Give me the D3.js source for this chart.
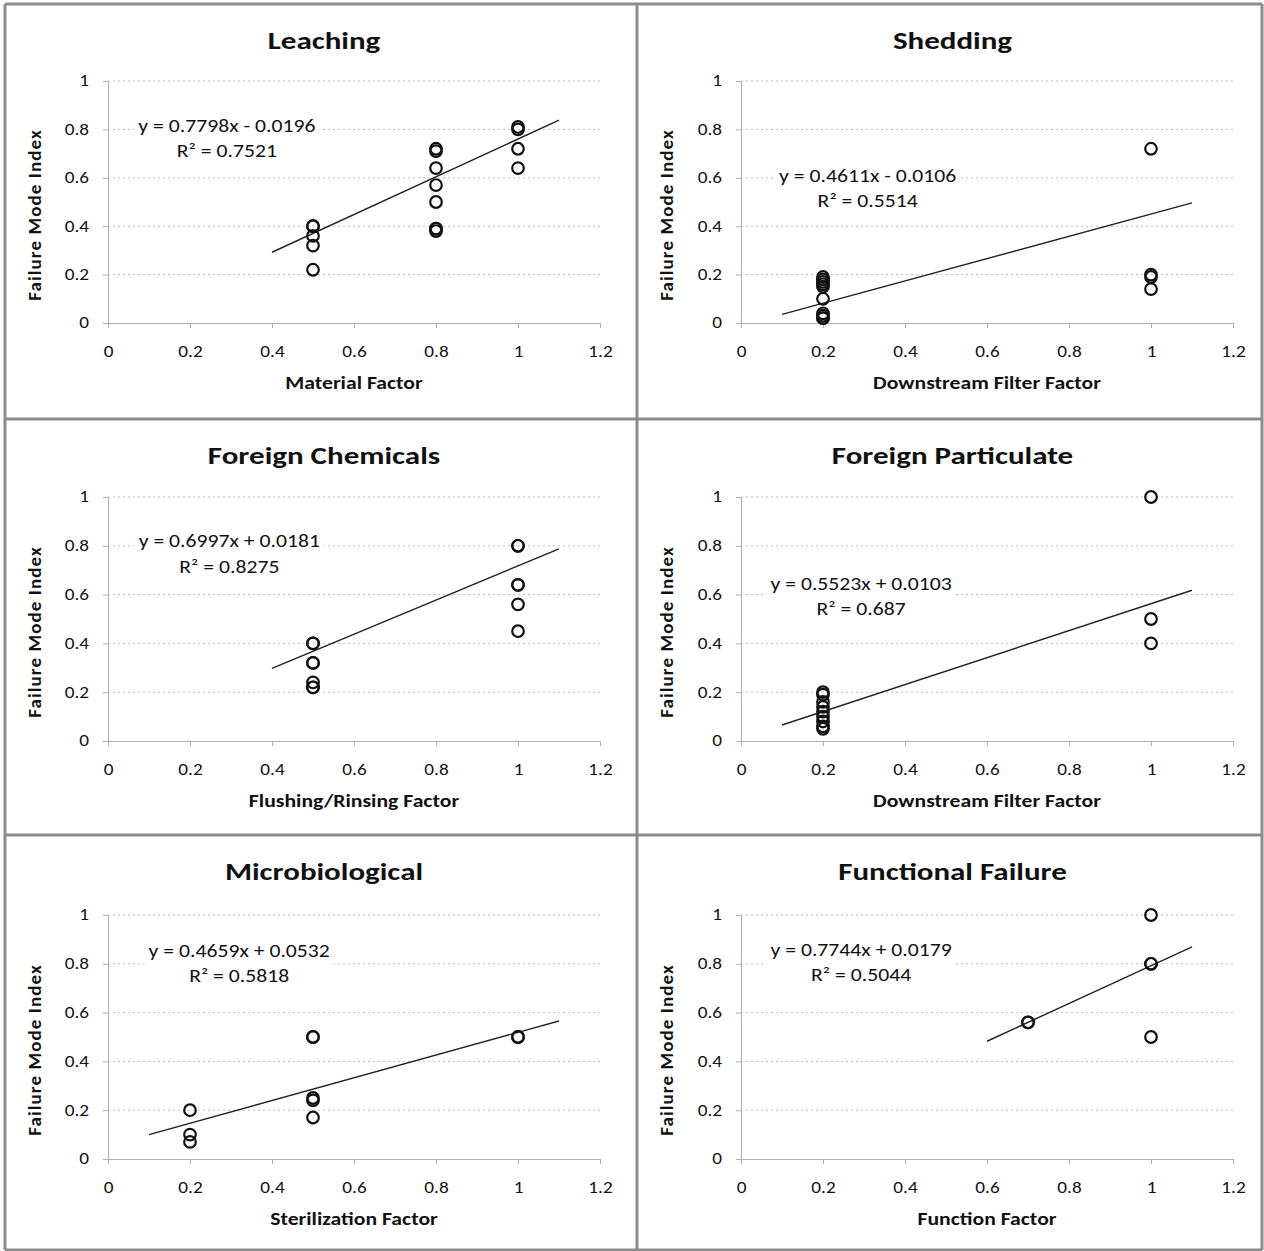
<!DOCTYPE html>
<html>
<head>
<meta charset="utf-8">
<script src="https://cdn.jsdelivr.net/npm/d3@7/dist/d3.min.js"></script>
<style>
  html, body { margin: 0; padding: 0; background: #fff; }
  svg { display: block; }
  text { font-family: Carlito, Lato, "Open Sans", sans-serif; fill: #111; }
</style>
</head>
<body>
<svg id="chart" width="1264" height="1251"></svg>
<script>
// ---- chart data ----
const titles = ["Leaching", "Shedding", "Foreign Chemicals", "Foreign Particulate", "Microbiological", "Functional Failure"];
const xTitles = ["Material Factor", "Downstream Filter Factor", "Flushing/Rinsing Factor", "Downstream Filter Factor", "Sterilization Factor", "Function Factor"];
const yTitle = "Failure Mode Index";
const xTicks = [0, 0.2, 0.4, 0.6, 0.8, 1, 1.2];
const yTicks = [0, 0.2, 0.4, 0.6, 0.8, 1];

const leachingX = [0.5, 0.5, 0.5, 0.5, 0.5, 0.8, 0.8, 0.8, 0.8, 0.8, 0.8, 0.8, 0.8, 1, 1, 1, 1];
const leachingY = [0.40, 0.40, 0.36, 0.32, 0.22, 0.72, 0.71, 0.64, 0.57, 0.50, 0.39, 0.39, 0.38, 0.80, 0.81, 0.72, 0.64];

const sheddingX = [0.2, 0.2, 0.2, 0.2, 0.2, 0.2, 0.2, 0.2, 0.2, 0.2, 1, 1, 1, 1];
const sheddingY = [0.19, 0.18, 0.17, 0.16, 0.15, 0.10, 0.04, 0.03, 0.02, 0.02, 0.72, 0.20, 0.19, 0.14];

const chemicalsX = [0.5, 0.5, 0.5, 0.5, 0.5, 0.5, 0.5, 1, 1, 1, 1, 1, 1];
const chemicalsY = [0.40, 0.40, 0.32, 0.32, 0.24, 0.22, 0.22, 0.80, 0.80, 0.64, 0.64, 0.56, 0.45];

const particulateX = [0.2, 0.2, 0.2, 0.2, 0.2, 0.2, 0.2, 0.2, 0.2, 1, 1, 1];
const particulateY = [0.20, 0.19, 0.16, 0.14, 0.12, 0.10, 0.08, 0.06, 0.05, 1.0, 0.50, 0.40];

const microX = [0.2, 0.2, 0.2, 0.5, 0.5, 0.5, 0.5, 0.5, 1, 1];
const microY = [0.20, 0.10, 0.07, 0.50, 0.50, 0.25, 0.24, 0.17, 0.50, 0.50];

const functionX = [0.7, 0.7, 1, 1, 1, 1];
const functionY = [0.56, 0.56, 1.0, 0.80, 0.80, 0.50];

// linear trend fits as printed on each panel
const slopes = [0.7798, 0.4611, 0.6997, 0.5523, 0.4659, 0.7744];
const intercepts = [-0.0196, -0.0106, 0.0181, 0.0103, 0.0532, 0.0179];
const rSquared = ["0.7521", "0.5514", "0.8275", "0.687", "0.5818", "0.5044"];

// where each fit label sits, in data units (x centre, y of first baseline)
const labelAnchors = [[0.29, 0.79], [0.309, 0.583], [0.296, 0.793], [0.293, 0.617], [0.32, 0.826], [0.293, 0.832]];

const seriesX = [leachingX, sheddingX, chemicalsX, particulateX, microX, functionX];
const seriesY = [leachingY, sheddingY, chemicalsY, particulateY, microY, functionY];

// ---- layout ----
const colPlotX = [[108, 600], [741, 1233]];
const rowPlotY = [[323, 81], [741, 497], [1159, 915]];
const colFrame = [[5, 637], [637, 1262]];
const rowFrame = [[4, 419], [419, 835], [835, 1250]];
const textStretch = 1.24;   // horizontal widening applied to the lettering

const svg = d3.select("#chart");
const fmt = v => (v === 0 ? "0" : d3.format("~g")(v));

function fitText(m, b) {
  const sign = b < 0 ? "- " : "+ ";
  return "y = " + m.toFixed(4) + "x " + sign + Math.abs(b).toFixed(4);
}

titles.forEach((title, i) => {
  const c = i % 2, r = Math.floor(i / 2);
  const x = d3.scaleLinear().domain([0, 1.2]).range(colPlotX[c]);
  const y = d3.scaleLinear().domain([0, 1]).range(rowPlotY[r]);
  const g = svg.append("g");
  const frameCx = (colFrame[c][0] + colFrame[c][1]) / 2;
  const plotCx = (colPlotX[c][0] + colPlotX[c][1]) / 2;
  const plotCy = (rowPlotY[r][0] + rowPlotY[r][1]) / 2;

  // dotted horizontal gridlines
  g.append("g").selectAll("line").data(yTicks.filter(v => v > 0)).join("line")
    .attr("x1", x(0)).attr("x2", x(1.2))
    .attr("y1", d => y(d)).attr("y2", d => y(d))
    .attr("stroke", "#bdbdbd").attr("stroke-width", 1)
    .attr("stroke-dasharray", "2,3");

  // axes
  const xAxis = d3.axisBottom(x).tickValues(xTicks).tickFormat(fmt).tickSize(5).tickPadding(18);
  const yAxis = d3.axisLeft(y).tickValues(yTicks).tickFormat(fmt).tickSize(5).tickPadding(14);

  const gx = g.append("g").attr("transform", `translate(0,${y(0)})`).call(xAxis);
  const gy = g.append("g").attr("transform", `translate(${x(0)},0)`).call(yAxis);
  [gx, gy].forEach(a => {
    a.select(".domain").attr("stroke", "#b0b0b0").attr("stroke-width", 1);
    a.selectAll(".tick line").attr("stroke", "#b0b0b0");
    a.selectAll(".tick text").attr("font-size", 15.5).attr("fill", "#111")
      .style("font-family", "Carlito, Lato, sans-serif");
  });

  // chart title
  g.append("text")
    .attr("x", frameCx + 3).attr("y", rowFrame[r][0] + 45)
    .attr("text-anchor", "middle")
    .attr("font-size", 25).attr("font-weight", "bold")
    .text(title);

  // axis titles
  g.append("text")
    .attr("x", plotCx).attr("y", y(0) + 66)
    .attr("text-anchor", "middle")
    .attr("font-size", 17.5).attr("font-weight", "bold")
    .text(xTitles[i]);

  g.append("text")
    .attr("class", "ytitle")
    .attr("transform", `translate(${colFrame[c][0] + 36},${plotCy + 13}) rotate(-90)`)
    .attr("text-anchor", "middle")
    .attr("font-size", 19).attr("font-weight", "bold")
    .attr("letter-spacing", 1.1)
    .text(yTitle);

  // trend line, spanning the data range extended by 0.1 on each side
  const xs = seriesX[i], ys = seriesY[i];
  const x0 = d3.min(xs) - 0.1, x1 = d3.max(xs) + 0.1;
  const m = slopes[i], b = intercepts[i];
  g.append("line")
    .attr("x1", x(x0)).attr("y1", y(m * x0 + b))
    .attr("x2", x(x1)).attr("y2", y(m * x1 + b))
    .attr("stroke", "#222").attr("stroke-width", 1.4);

  // fit label with white backing
  const [ax, ay] = labelAnchors[i];
  const lg = g.append("g");
  const bg = lg.append("rect").attr("fill", "#fff");
  lg.append("text")
    .attr("x", x(ax)).attr("y", y(ay))
    .attr("text-anchor", "middle").attr("font-size", 17.5)
    .text(fitText(m, b));
  lg.append("text")
    .attr("x", x(ax)).attr("y", y(ay) + 25)
    .attr("text-anchor", "middle").attr("font-size", 17.5)
    .text("R\u00B2 = " + rSquared[i]);
  const bb = lg.node().getBBox();
  const w = bb.width * textStretch;
  bg.attr("x", x(ax) - w / 2 - 4).attr("y", bb.y - 2).attr("width", w + 8).attr("height", bb.height + 4);

  // markers
  g.append("g").selectAll("circle").data(xs.map((v, k) => [v, ys[k]])).join("circle")
    .attr("cx", d => x(d[0])).attr("cy", d => y(d[1]))
    .attr("r", 5.8)
    .attr("fill", "none").attr("stroke", "#111").attr("stroke-width", 2.2);
});

// widen lettering horizontally about each text's anchor point
svg.selectAll("text").filter(function () { return !this.classList.contains("ytitle"); })
  .each(function () {
    const ax = +this.getAttribute("x") || 0;
    d3.select(this).attr("transform", `translate(${ax * (1 - textStretch)},0) scale(${textStretch},1)`);
  });

// panel frames
const vLines = [5, 637, 1262];
const hLines = [4, 419, 835, 1250];
svg.append("g").selectAll("line").data(vLines).join("line")
  .attr("x1", d => d).attr("x2", d => d).attr("y1", 4).attr("y2", 1250)
  .attr("stroke", "#8c8c8c").attr("stroke-width", 3);
svg.append("g").selectAll("line").data(hLines).join("line")
  .attr("y1", d => d).attr("y2", d => d).attr("x1", 5).attr("x2", 1262)
  .attr("stroke", "#8c8c8c").attr("stroke-width", 3);
</script>
</body>
</html>
